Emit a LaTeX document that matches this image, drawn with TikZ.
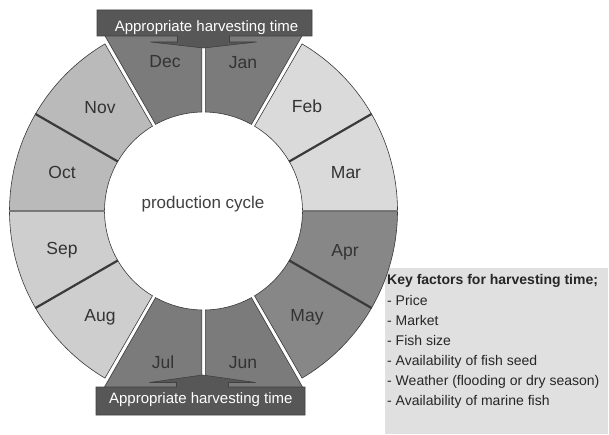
\documentclass[tikz,border=0pt]{standalone}
\usepackage{fontspec}
\setmainfont{Liberation Sans}
\definecolor{dkm}{HTML}{7B7B7B}
\definecolor{apm}{HTML}{878787}
\definecolor{nom}{HTML}{BABABA}
\definecolor{sem}{HTML}{CECECE}
\definecolor{fem}{HTML}{DADADA}
\definecolor{ban}{HTML}{575757}
\definecolor{edgec}{HTML}{3A3A3A}
\definecolor{keyb}{HTML}{E0E0E0}
\definecolor{txt}{HTML}{333333}
\tikzset{
 segline/.style={draw=edgec, line width=0.6pt, line join=miter},
 thickbound/.style={draw=edgec, line width=2.2pt},
 banner/.style={fill=ban, draw=black!75, line width=0.6pt},
 monthlbl/.style={font=\fontsize{17.5}{20}\selectfont, text=txt, anchor=base, inner sep=0pt},
 bantext/.style={font=\fontsize{15}{18}\selectfont, text=white, anchor=base, inner sep=0pt},
 keytext/.style={font=\fontsize{14}{17}\selectfont, text=black!85, anchor=base west, inner sep=0pt},
}
\newcommand\ringseg[5][]{%
 \pgfmathsetmacro\rsA{#2+asin(#4/99)}%
 \pgfmathsetmacro\rsB{#3-asin(#5/99)}%
 \pgfmathsetmacro\rsC{#3-asin(#5/194)}%
 \pgfmathsetmacro\rsD{#2+asin(#4/194)}%
 \path[segline,#1] (\rsA:99pt) arc[start angle=\rsA, end angle=\rsB, radius=99pt] -- (\rsC:194pt) arc[start angle=\rsC, end angle=\rsD, radius=194pt] -- cycle;}
\begin{document}
\begin{tikzpicture}[x=1pt,y=1pt]
\useasboundingbox (0,0) rectangle (609,434);
% key box
\fill[keyb] (385,0) rectangle (608,166);
\begin{scope}[shift={(203.5,223)}]
 % plain ring sectors
 \ringseg[fill=fem]{0}{30}{0.7}{0}
 \ringseg[fill=fem]{30}{60}{0}{1.8}
 \ringseg[fill=nom]{120}{150}{1.8}{0}
 \ringseg[fill=nom]{150}{180}{0}{0.7}
 \ringseg[fill=sem]{180}{210}{0.7}{0}
 \ringseg[fill=sem]{210}{240}{0}{1.8}
 \ringseg[fill=apm]{300}{330}{1.8}{0}
 \ringseg[fill=apm]{330}{360}{0}{0.7}
 % harvest months extended to the banners
 \path[segline,fill=dkm] (91.042:99pt) arc[start angle=91.042, end angle=118.958, radius=99pt] -- (-99.6,177) -- (-1.8,177) -- cycle;
 \path[segline,fill=dkm] (61.042:99pt) arc[start angle=61.042, end angle=88.958, radius=99pt] -- (1.8,177) -- (99.6,177) -- cycle;
 \path[segline,fill=dkm] (241.042:99pt) arc[start angle=241.042, end angle=268.958, radius=99pt] -- (-1.8,-177) -- (-99.6,-177) -- cycle;
 \path[segline,fill=dkm] (271.042:99pt) arc[start angle=271.042, end angle=298.958, radius=99pt] -- (99.6,-177) -- (1.8,-177) -- cycle;
 % thick boundaries
 \draw[thickbound] (30:99pt) -- (30:194pt);
 \draw[thickbound] (150:99pt) -- (150:194pt);
 \draw[thickbound] (210:99pt) -- (210:194pt);
 \draw[thickbound] (330:99pt) -- (330:194pt);
 % banners
 \path[banner] (-106.5,201) -- (108.5,201) -- (108.5,175) -- (26,175) -- (26,169) -- (53,169) -- (0,163) -- (-53,169) -- (-26,169) -- (-26,175) -- (-106.5,175) -- cycle;
 \path[banner] (-107.5,-176) -- (-27,-176) -- (-27,-171.5) -- (-54,-171.5) -- (-1,-164) -- (52,-171.5) -- (25,-171.5) -- (25,-176) -- (101.5,-176) -- (101.5,-204) -- (-107.5,-204) -- cycle;
\end{scope}
% banner texts
\node[bantext] (bantop) at (206.5,402.3) {Appropriate harvesting time};
\node[bantext] (banbot) at (200.8,30.7) {Appropriate harvesting time};
% month labels
\node[monthlbl] (dec) at (165,366) {Dec};
\node[monthlbl] (jan) at (243,365) {Jan};
\node[monthlbl] (nov) at (100,320) {Nov};
\node[monthlbl] (oct) at (62,255) {Oct};
\node[monthlbl] (sep) at (62,180) {Sep};
\node[monthlbl] (aug) at (100,113) {Aug};
\node[monthlbl] (feb) at (307,321) {Feb};
\node[monthlbl] (mar) at (346,255) {Mar};
\node[monthlbl] (apr) at (345,178) {Apr};
\node[monthlbl] (may) at (307,113) {May};
\node[monthlbl] (jul) at (163,66) {Jul};
\node[monthlbl] (jun) at (243,66) {Jun};
% centre
\node[font=\fontsize{17}{20}\selectfont, text=black!75, anchor=base, inner sep=0pt] (cycle) at (203,225.7) {production cycle};
% key factors
\node[keytext, font=\fontsize{14}{17}\selectfont\bfseries] (k0) at (387,150) {Key factors for harvesting time;};
\node[keytext] (k1) at (387,129) {- Price};
\node[keytext] (k2) at (387,109) {- Market};
\node[keytext] (k3) at (387,89) {- Fish size};
\node[keytext] (k4) at (387,69) {- Availability of fish seed};
\node[keytext] (k5) at (387,49) {- Weather (flooding or dry season)};
\node[keytext] (k6) at (387,29) {- Availability of marine fish};
\end{tikzpicture}
\end{document}
